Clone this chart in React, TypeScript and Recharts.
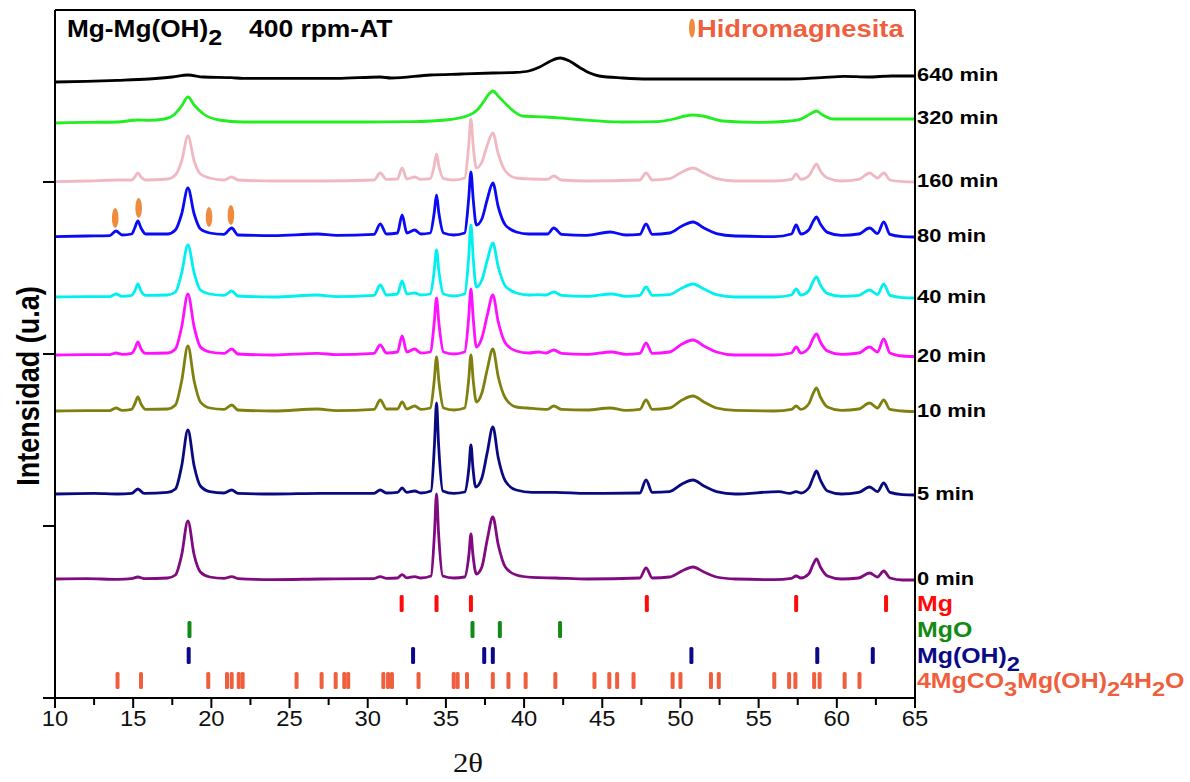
import React from "react";
import { ComposedChart, Line, Scatter, XAxis, YAxis } from "recharts";

const FONT = '"Liberation Sans", Arial, Helvetica, sans-serif';

// axes
const xTicks = [10, 12.5, 15, 17.5, 20, 22.5, 25, 27.5, 30, 32.5, 35, 37.5, 40, 42.5, 45, 47.5, 50, 52.5, 55, 57.5, 60, 62.5, 65];
const yTicks = [0, 860, 1720, 2580];
const yMax = 3440;

// milling times, top to bottom
const sampleLabels = ["640 min", "320 min", "160 min", "80 min", "40 min", "20 min", "10 min", "5 min", "0 min"];
const sampleColors = ["#000000", "#22ee22", "#f0b9c2", "#0a0af5", "#00f0f0", "#ff10ff", "#808010", "#0a0a80", "#800a80"];
const sampleOffsets = [3080, 2880, 2585, 2310, 2005, 1715, 1435, 1020, 595];

// [2θ, intensity above the stacking offset]
const scan640 = [[10, 0], [12, 3], [14, 8], [16, 15], [17.5, 25], [18.5, 35], [19.5, 25], [21.3, 22], [22, 18], [25, 18], [28, 18], [30.8, 25], [31.5, 20], [34, 35], [36, 40], [38, 45], [39.5, 48], [40.3, 55], [41, 75], [41.7, 105], [42.3, 120], [42.9, 105], [43.6, 70], [44.2, 45], [44.8, 30], [46.3, 20], [48, 15], [50, 15], [54, 15], [57, 15], [59, 22], [60.5, 28], [62, 25], [63.5, 30], [65, 30]];
const scan320 = [[10, -5], [12, -2], [14, 0], [15.3, 10], [16, 8], [17, 15], [17.6, 35], [18.1, 80], [18.5, 125], [18.9, 85], [19.5, 40], [20.5, 10], [22, 0], [26, 0], [30, 0], [33, 2], [35, 10], [36.5, 35], [37, 60], [37.4, 100], [37.75, 140], [38, 155], [38.4, 125], [38.9, 85], [39.4, 50], [39.9, 30], [41.4, 25], [43.1, 15], [46.3, 0], [48.5, 2], [49.6, 15], [50.3, 30], [50.8, 35], [51.4, 30], [52.7, 5], [54.9, -2], [57, 5], [57.6, 12], [58.3, 40], [58.7, 55], [59.1, 35], [59.8, 15], [61, 15], [63, 15], [65, 15]];
const scan160 = [[10, -3], [12, 0], [13.9, 5], [14.9, 5], [15.1, 20], [15.3, 40], [15.5, 20], [15.8, 5], [17.2, 10], [17.7, 30], [18.1, 100], [18.5, 225], [18.9, 100], [19.3, 35], [19.9, 15], [20.8, 5], [21.3, 20], [21.7, 5], [24, 0], [27, 0], [30.4, 5], [30.8, 40], [31.2, 8], [31.9, 10], [32.2, 65], [32.5, 10], [33, 20], [33.4, 8], [34, 12], [34.25, 75], [34.4, 135], [34.55, 75], [34.85, 12], [35.5, 5], [36.2, 15], [36.45, 170], [36.6, 310], [36.75, 170], [36.95, 65], [37.3, 95], [37.65, 180], [38, 240], [38.35, 135], [38.8, 50], [39.5, 15], [40.5, 10], [41.5, 8], [41.9, 25], [42.4, 5], [44, 0], [47.4, 5], [47.8, 40], [48.2, 5], [49.3, 12], [50.1, 45], [50.8, 65], [51.5, 40], [52.3, 12], [53.5, 0], [56, 0], [57.1, 8], [57.4, 35], [57.7, 8], [58.2, 25], [58.5, 65], [58.7, 85], [58.95, 50], [59.4, 15], [60.3, 0], [61.4, 8], [62.1, 40], [62.6, 15], [63, 40], [63.4, 5], [64.2, -3], [65, -5]];
const scan80 = [[10, -3], [12, 0], [13.5, 2], [13.9, 25], [14.3, 5], [14.9, 10], [15.1, 40], [15.3, 75], [15.5, 40], [15.8, 10], [17.2, 10], [17.7, 30], [18.1, 110], [18.5, 240], [18.9, 110], [19.3, 35], [19.9, 15], [20.8, 8], [21.3, 40], [21.7, 5], [24, 2], [26.8, 10], [28, 3], [30.4, 8], [30.8, 60], [31.2, 10], [31.9, 15], [32.2, 105], [32.5, 15], [33, 30], [33.4, 10], [34, 15], [34.25, 115], [34.4, 205], [34.55, 115], [34.85, 15], [35.5, 5], [36.2, 15], [36.45, 180], [36.6, 320], [36.75, 180], [36.95, 55], [37.3, 85], [37.65, 185], [38, 265], [38.35, 145], [38.8, 55], [39.5, 20], [40.3, 10], [41.5, 10], [41.9, 40], [42.4, 8], [44, 3], [45.5, 20], [46.5, 5], [47.4, 8], [47.8, 60], [48.2, 8], [49.3, 15], [50.1, 50], [50.8, 70], [51.5, 40], [52.3, 12], [53.5, 0], [56, -3], [57.1, 10], [57.4, 55], [57.7, 10], [58.2, 30], [58.5, 75], [58.7, 95], [58.95, 60], [59.4, 18], [60.3, 3], [61.4, 10], [62.1, 40], [62.6, 12], [63, 70], [63.4, 8], [64.2, -3], [65, -5]];
const scan40 = [[10, 0], [12, 2], [13.5, 2], [13.9, 15], [14.3, 3], [14.9, 8], [15.1, 30], [15.3, 65], [15.5, 30], [15.8, 8], [17.2, 10], [17.7, 25], [18.1, 120], [18.5, 260], [18.9, 120], [19.3, 35], [19.9, 15], [20.8, 8], [21.3, 30], [21.7, 5], [24, 0], [26.8, 10], [28, 2], [30.4, 8], [30.8, 60], [31.2, 10], [31.9, 15], [32.2, 80], [32.5, 15], [33, 20], [33.4, 10], [34, 15], [34.25, 130], [34.4, 235], [34.55, 130], [34.85, 15], [35.5, 5], [36.2, 15], [36.45, 190], [36.6, 360], [36.75, 190], [36.95, 50], [37.3, 85], [37.65, 185], [38, 270], [38.35, 150], [38.8, 55], [39.5, 20], [40.3, 10], [40.9, 12], [41.4, 10], [41.9, 25], [42.4, 8], [44, 3], [45.6, 15], [46.5, 3], [47.4, 8], [47.8, 50], [48.2, 8], [49.3, 12], [50.1, 45], [50.8, 65], [51.5, 40], [52.3, 12], [53.5, 0], [56, 0], [57.1, 10], [57.4, 40], [57.7, 10], [58.2, 30], [58.5, 80], [58.7, 100], [58.95, 60], [59.4, 18], [60.3, 3], [61.4, 8], [62.1, 35], [62.6, 12], [63, 65], [63.4, 8], [64.2, -3], [65, -5]];
const scan20 = [[10, 0], [12, 2], [13.5, 2], [13.9, 10], [14.3, 3], [14.9, 8], [15.1, 30], [15.3, 65], [15.5, 30], [15.8, 8], [17.2, 10], [17.7, 30], [18.1, 140], [18.5, 305], [18.9, 140], [19.3, 40], [19.9, 15], [20.8, 8], [21.3, 30], [21.7, 5], [24, 0], [26.8, 8], [28, 2], [30.4, 8], [30.8, 50], [31.2, 10], [31.9, 15], [32.2, 95], [32.5, 15], [33, 30], [33.4, 10], [34, 15], [34.25, 160], [34.4, 285], [34.55, 160], [34.85, 15], [35.5, 5], [36.2, 15], [36.45, 180], [36.6, 330], [36.75, 180], [36.95, 40], [37.3, 85], [37.65, 200], [38, 300], [38.35, 165], [38.8, 60], [39.5, 20], [40.3, 10], [40.9, 15], [41.4, 10], [41.9, 25], [42.4, 8], [44, 3], [45.6, 15], [46.5, 3], [47.4, 8], [47.8, 60], [48.2, 8], [49.3, 15], [50.1, 55], [50.8, 75], [51.5, 45], [52.3, 15], [53.5, 0], [56, 0], [57.1, 10], [57.4, 40], [57.7, 10], [58.2, 35], [58.5, 85], [58.7, 105], [58.95, 65], [59.4, 20], [60.3, 3], [61.4, 10], [62.1, 40], [62.6, 15], [63, 80], [63.4, 10], [64.2, -5], [65, -8]];
const scan10 = [[10, 0], [12, 2], [13.5, 2], [13.9, 15], [14.3, 3], [14.9, 8], [15.1, 35], [15.3, 70], [15.5, 35], [15.8, 8], [17.2, 10], [17.7, 30], [18.1, 150], [18.5, 325], [18.9, 150], [19.3, 45], [19.9, 15], [20.8, 8], [21.3, 30], [21.7, 5], [24, 0], [26.8, 10], [28, 2], [30.4, 8], [30.8, 55], [31.2, 10], [31.9, 10], [32.2, 45], [32.5, 10], [33, 25], [33.4, 8], [34, 15], [34.25, 150], [34.4, 270], [34.55, 150], [34.85, 15], [35.5, 5], [36.2, 15], [36.45, 150], [36.6, 280], [36.75, 150], [36.95, 45], [37.3, 90], [37.65, 210], [38, 310], [38.35, 170], [38.8, 65], [39.5, 20], [40.2, 15], [41.5, 8], [41.9, 25], [42.4, 8], [44, 5], [45.5, 15], [46.5, 3], [47.4, 8], [47.8, 55], [48.2, 8], [49.3, 15], [50.1, 55], [50.8, 75], [51.5, 45], [52.3, 15], [53.5, 3], [56, 0], [57.1, 8], [57.4, 25], [57.7, 8], [58.2, 35], [58.5, 90], [58.7, 115], [58.95, 70], [59.4, 20], [60.3, 3], [61.4, 10], [62.1, 40], [62.6, 15], [63, 55], [63.4, 8], [64.2, 0], [65, -3]];
const scan5 = [[10, 0], [12.5, 3], [14, 0], [14.9, 3], [15.3, 25], [15.7, 3], [17.2, 8], [17.7, 25], [18.1, 140], [18.5, 320], [18.9, 140], [19.3, 40], [19.9, 12], [20.8, 5], [21.3, 20], [21.7, 3], [24, 0], [27, 3], [30.4, 3], [30.8, 20], [31.2, 5], [31.9, 8], [32.2, 30], [32.5, 8], [33, 15], [33.4, 5], [34.05, 15], [34.27, 250], [34.4, 455], [34.53, 250], [34.8, 15], [35.5, 3], [36.2, 10], [36.47, 130], [36.6, 245], [36.73, 130], [36.9, 35], [37.3, 80], [37.65, 210], [38, 335], [38.35, 180], [38.8, 65], [39.5, 20], [40.5, 8], [42, 8], [44, 3], [47.4, 5], [47.8, 70], [48.2, 8], [49.3, 12], [50.1, 50], [50.8, 70], [51.5, 40], [52.3, 12], [53.5, 0], [56.3, 12], [57, 3], [57.4, 12], [57.7, 5], [58.2, 30], [58.5, 85], [58.7, 115], [58.95, 70], [59.4, 15], [60.3, 0], [61.4, 8], [62.1, 35], [62.6, 12], [63, 55], [63.4, 8], [64.2, -3], [65, -5]];
const scan0 = [[10, 0], [12, 2], [14, -2], [14.9, 2], [15.3, 10], [15.7, 2], [17.2, 5], [17.7, 20], [18.1, 120], [18.5, 290], [18.9, 120], [19.3, 35], [19.9, 10], [20.8, 3], [21.3, 12], [21.7, 2], [24, -3], [27, 0], [30.4, 2], [30.8, 12], [31.2, 3], [31.9, 5], [32.2, 22], [32.5, 6], [33, 12], [33.4, 5], [34.05, 15], [34.27, 230], [34.4, 425], [34.53, 230], [34.8, 15], [35.5, 5], [36.2, 10], [36.47, 120], [36.6, 225], [36.73, 120], [36.95, 25], [37.3, 60], [37.65, 200], [38, 310], [38.35, 170], [38.8, 60], [39.5, 20], [40.5, 8], [42, 5], [44, 0], [47.4, 5], [47.8, 55], [48.2, 5], [49.3, 10], [50.1, 40], [50.8, 60], [51.5, 35], [52.3, 10], [53.5, 0], [56, -3], [57.1, 3], [57.4, 15], [57.7, 5], [58.2, 25], [58.5, 75], [58.7, 100], [58.95, 60], [59.4, 15], [60.3, 0], [61.4, 5], [62.1, 30], [62.6, 10], [63, 40], [63.4, 5], [64.2, -5], [65, -5]];
const scans = [scan640, scan320, scan160, scan80, scan40, scan20, scan10, scan5, scan0];

// reference patterns (2θ positions)
const mgLines = [32.17, 34.4, 36.6, 47.85, 57.4, 63.15];
const mgoLines = [18.6, 36.7, 38.45, 42.3];
const brucLines = [18.55, 32.9, 37.45, 38.0, 50.7, 58.75, 62.3];
const hydroLines = [14.0, 15.5, 19.8, 21.0, 21.3, 21.75, 22.0, 25.45, 27.05, 27.95, 28.5, 28.75, 31.0, 31.3, 31.55, 33.25, 35.5, 35.75, 36.35, 38.0, 39.0, 40.1, 42.0, 44.5, 45.45, 45.95, 47.0, 49.5, 50.0, 51.95, 52.45, 56.0, 56.95, 57.35, 58.55, 58.9, 60.5, 61.45];
const phaseLines = [mgLines, mgoLines, brucLines, hydroLines];
const phaseLevels = [472, 342, 212, 87];
const phaseColors = ["#ff0a0a", "#138a13", "#0a0a88", "#ef5f3e"];
// label pieces: [text, isSubscript]
const phaseLabels: [string, boolean][][] = [
  [["Mg", false]],
  [["MgO", false]],
  [["Mg(OH)", false], ["2", true]],
  [["4MgCO", false], ["3", true], ["Mg(OH)", false], ["2", true], ["4H", false], ["2", true], ["O", false]],
];

// hydromagnesite markers on the 80 min scan
const hydroMarkPos = [13.85, 15.35, 19.85, 21.25];
const hydroMarkLevel = [2400, 2450, 2405, 2415];
const markColor = "#f08a3c";

const XTick = (props: any) => {
  const { x, y, payload } = props;
  const major = payload.value % 5 === 0;
  return (
    <g>
      <line x1={x} x2={x} y1={y} y2={y + (major ? 10 : 7)} stroke="#000" strokeWidth={2} />
      {major && (
        <g transform={`translate(${x},${y + 28}) scale(1.08,1)`}>
          <text x={0} y={0} textAnchor="middle" fontFamily={FONT} fontSize={22} fill="#111">
            {payload.value}
          </text>
        </g>
      )}
    </g>
  );
};

const EndLabel = (props: any) => {
  const { cx, cy, payload } = props;
  if (cx == null || cy == null) return <g />;
  return (
    <g transform={`translate(${cx + 2},${cy - 2}) scale(1.15,1)`}>
      <text x={0} y={0} dominantBaseline="central" fontFamily={FONT} fontWeight="bold" fontSize={19} fill="#000">
        {payload.label}
      </text>
    </g>
  );
};

const makeTick = (color: string) => (props: any) => {
  const { cx, cy } = props;
  if (cx == null || cy == null) return <g />;
  return <rect x={cx - 2} y={cy - 8.5} width={4} height={17} rx={1.5} fill={color} />;
};

const makePhaseLabel = (color: string, parts: [string, boolean][]) => (props: any) => {
  const { cx, cy } = props;
  if (cx == null || cy == null) return <g />;
  let shift = 0;
  return (
    <g transform={`translate(${cx + 2},${cy}) scale(1.13,1)`}>
      <text x={0} y={0} dominantBaseline="central" fontFamily={FONT} fontWeight="bold" fontSize={22} fill={color}>
        {parts.map(([s, sub], i) => {
          const dy = (sub ? 8 : 0) - shift;
          shift = sub ? 8 : 0;
          return (
            <tspan key={i} dy={dy} fontSize={sub ? 21 : 22}>
              {s}
            </tspan>
          );
        })}
      </text>
    </g>
  );
};

const Marker = (props: any) => {
  const { cx, cy } = props;
  if (cx == null || cy == null) return <g />;
  return <ellipse cx={cx} cy={cy} rx={3.3} ry={10} fill={markColor} />;
};

const frame = { stroke: "#000", strokeWidth: 2 };

export default function App() {
  const series = scans.map((scan, i) => ({
    name: sampleLabels[i],
    color: sampleColors[i],
    rows: scan.map(([t, h]) => ({ t, v: sampleOffsets[i] + h })),
  }));
  const endPoints = series.map((s) => ({ ...s.rows[s.rows.length - 1], label: s.name }));
  const marks = hydroMarkPos.map((t, i) => ({ t, v: hydroMarkLevel[i] }));

  return (
    <div style={{ position: "fixed", left: 0, top: 0, width: 1190, height: 782, background: "#fff" }}>
      <ComposedChart width={1190} height={782} margin={{ top: 9, right: 274, bottom: 0, left: 54 }}>
        <XAxis
          type="number"
          dataKey="t"
          domain={[10, 65]}
          ticks={xTicks}
          interval={0}
          height={84}
          tickSize={0}
          tickMargin={0}
          tickLine={false}
          tick={<XTick />}
          axisLine={frame}
        />
        <XAxis
          xAxisId="top"
          orientation="top"
          type="number"
          dataKey="t"
          domain={[10, 65]}
          height={1}
          tick={false}
          tickLine={false}
          axisLine={frame}
        />
        <YAxis
          type="number"
          dataKey="v"
          domain={[0, yMax]}
          ticks={yTicks}
          interval={0}
          width={1}
          tickSize={12}
          tickFormatter={() => ""}
          tickLine={frame}
          axisLine={frame}
        />
        <YAxis
          yAxisId="right"
          orientation="right"
          type="number"
          dataKey="v"
          domain={[0, yMax]}
          width={1}
          tick={false}
          tickLine={false}
          axisLine={frame}
        />
        {series
          .slice()
          .reverse()
          .map((s) => (
            <Line
              key={s.name}
              data={s.rows}
              dataKey="v"
              type="monotone"
              stroke={s.color}
              strokeWidth={2.8}
              dot={false}
              isAnimationActive={false}
            />
          ))}
        {phaseLines.map((lines, i) => (
          <Scatter
            key={"ph" + i}
            data={lines.map((t) => ({ t, v: phaseLevels[i] }))}
            dataKey="v"
            shape={makeTick(phaseColors[i])}
            isAnimationActive={false}
          />
        ))}
        {phaseLabels.map((parts, i) => (
          <Scatter
            key={"pl" + i}
            data={[{ t: 65, v: phaseLevels[i] }]}
            dataKey="v"
            shape={makePhaseLabel(phaseColors[i], parts)}
            isAnimationActive={false}
          />
        ))}
        <Scatter data={marks} dataKey="v" shape={<Marker />} isAnimationActive={false} />
        <Scatter data={endPoints} dataKey="v" shape={<EndLabel />} isAnimationActive={false} />
      </ComposedChart>
      <svg width={1190} height={782} style={{ position: "absolute", left: 0, top: 0, pointerEvents: "none" }}>
        <g transform="translate(67,37) scale(1.14,1)">
          <text x={0} y={0} fontFamily={FONT} fontWeight="bold" fontSize={23} fill="#000">
            Mg-Mg(OH)
            <tspan dy={8} fontSize={22}>2</tspan>
          </text>
        </g>
        <g transform="translate(249,37) scale(1.15,1)">
          <text x={0} y={0} fontFamily={FONT} fontWeight="bold" fontSize={23} fill="#000">
            400 rpm-AT
          </text>
        </g>
        <ellipse cx={692} cy={28} rx={3} ry={9.5} fill={markColor} />
        <g transform="translate(697,37) scale(1.14,1)">
          <text x={0} y={0} fontFamily={FONT} fontWeight="bold" fontSize={24} fill="#ef5f3e">
            Hidromagnesita
          </text>
        </g>
        <g transform="translate(28,386) scale(1.15,1) rotate(-90)">
          <text x={0} y={0} textAnchor="middle" dominantBaseline="central" fontFamily={FONT} fontWeight="bold" fontSize={27} fill="#000">
            Intensidad (u.a)
          </text>
        </g>
        <g transform="translate(468,772) scale(1.1,1)">
          <text x={0} y={0} textAnchor="middle" fontFamily='"Liberation Serif", "DejaVu Serif", serif' fontSize={28} fill="#111">
            2θ
          </text>
        </g>
      </svg>
    </div>
  );
}
